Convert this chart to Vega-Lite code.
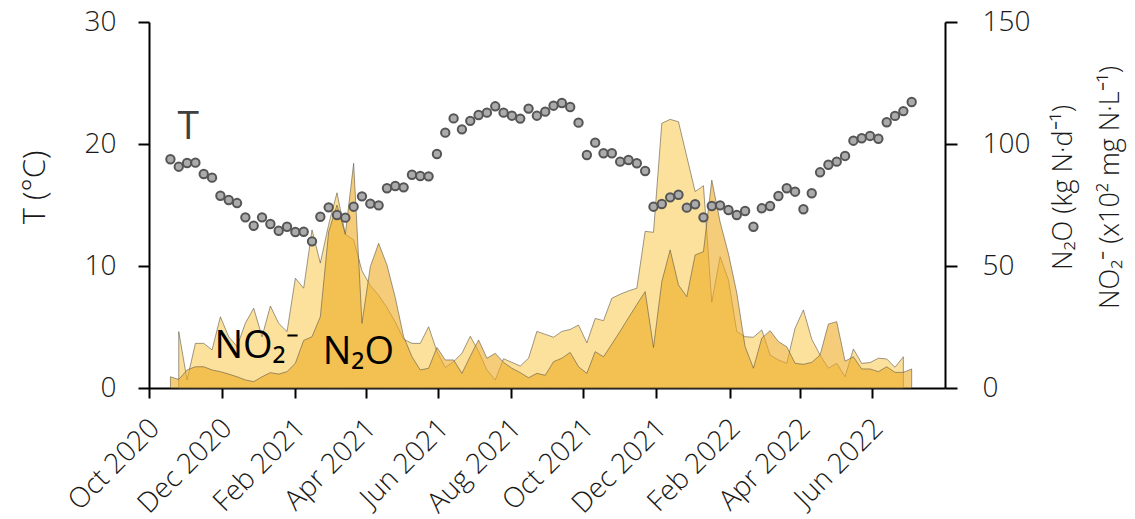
{
  "$schema": "https://vega.github.io/schema/vega-lite/v6.json",
  "width": 796,
  "height": 366,
  "autosize": {"type": "none"},
  "padding": {"left": 149, "top": 22, "right": 190, "bottom": 131},
  "config": {
    "font": "Open Sans",
    "view": {"stroke": null},
    "axis": {
      "grid": false,
      "domainColor": "#000000",
      "domainWidth": 2,
      "tickColor": "#000000",
      "tickWidth": 2,
      "labelFont": "Open Sans",
      "labelFontSize": 28,
      "labelFontWeight": 300,
      "labelColor": "#1a1a1a",
      "labelOverlap": false,
      "titleFont": "Open Sans",
      "titleFontSize": 27,
      "titleFontWeight": 300,
      "titleColor": "#1a1a1a"
    }
  },
  "data": {
    "values": [
      {"date": "2020/10/19", "T": 18.75, "no2": null, "n2o": 4.6},
      {"date": "2020/10/26", "T": 18.14, "no2": 23.1, "n2o": 3.5},
      {"date": "2020/11/02", "T": 18.44, "no2": 3.3, "n2o": 7.4},
      {"date": "2020/11/09", "T": 18.47, "no2": 18.3, "n2o": 8.7},
      {"date": "2020/11/16", "T": 17.54, "no2": 18.3, "n2o": 8.7},
      {"date": "2020/11/23", "T": 17.24, "no2": 15.6, "n2o": 7.4},
      {"date": "2020/11/30", "T": 15.76, "no2": 29.2, "n2o": 6.7},
      {"date": "2020/12/07", "T": 15.41, "no2": 21, "n2o": 5.7},
      {"date": "2020/12/14", "T": 15.16, "no2": 17, "n2o": 4.6},
      {"date": "2020/12/21", "T": 13.99, "no2": 26.6, "n2o": 3.3},
      {"date": "2020/12/28", "T": 13.3, "no2": 32.7, "n2o": 2.6},
      {"date": "2021/01/04", "T": 13.99, "no2": 21, "n2o": 4.6},
      {"date": "2021/01/11", "T": 13.44, "no2": 33.6, "n2o": 6.3},
      {"date": "2021/01/18", "T": 12.89, "no2": 26.5, "n2o": 5.7},
      {"date": "2021/01/25", "T": 13.22, "no2": 23.1, "n2o": 6.7},
      {"date": "2021/02/01", "T": 12.79, "no2": 45, "n2o": 10.1},
      {"date": "2021/02/08", "T": 12.81, "no2": 40.9, "n2o": 19.5},
      {"date": "2021/02/15", "T": 12.02, "no2": 64.8, "n2o": 21},
      {"date": "2021/02/22", "T": 14.04, "no2": 51.2, "n2o": 29.2},
      {"date": "2021/03/01", "T": 14.81, "no2": 67, "n2o": 64},
      {"date": "2021/03/08", "T": 14.18, "no2": 80, "n2o": 75},
      {"date": "2021/03/15", "T": 13.96, "no2": 63, "n2o": 63},
      {"date": "2021/03/22", "T": 14.86, "no2": 60.7, "n2o": 92.1},
      {"date": "2021/03/29", "T": 15.71, "no2": 48, "n2o": 26.5},
      {"date": "2021/04/05", "T": 15.11, "no2": 42, "n2o": 49.7},
      {"date": "2021/04/12", "T": 14.97, "no2": 38, "n2o": 59.3},
      {"date": "2021/04/19", "T": 16.37, "no2": 33, "n2o": 50.4},
      {"date": "2021/04/26", "T": 16.56, "no2": 27, "n2o": 37},
      {"date": "2021/05/03", "T": 16.45, "no2": 20, "n2o": 21},
      {"date": "2021/05/10", "T": 17.48, "no2": 18.3, "n2o": 12.8},
      {"date": "2021/05/17", "T": 17.38, "no2": 18.3, "n2o": 7.4},
      {"date": "2021/05/24", "T": 17.35, "no2": 25.1, "n2o": 8.1},
      {"date": "2021/05/31", "T": 19.18, "no2": 15, "n2o": 16.6},
      {"date": "2021/06/07", "T": 20.93, "no2": 8.4, "n2o": 11.5},
      {"date": "2021/06/14", "T": 22.1, "no2": 10.8, "n2o": 11.5},
      {"date": "2021/06/21", "T": 21.2, "no2": 14.2, "n2o": 6},
      {"date": "2021/06/28", "T": 21.9, "no2": 21.2, "n2o": 13},
      {"date": "2021/07/05", "T": 22.38, "no2": 15, "n2o": 19.7},
      {"date": "2021/07/12", "T": 22.57, "no2": 7.4, "n2o": 12.2},
      {"date": "2021/07/19", "T": 23.09, "no2": 3.3, "n2o": 14.2},
      {"date": "2021/07/26", "T": 22.57, "no2": 12, "n2o": 10.5},
      {"date": "2021/08/02", "T": 22.32, "no2": 10.5, "n2o": 8.1},
      {"date": "2021/08/09", "T": 22.08, "no2": 9, "n2o": 6.3},
      {"date": "2021/08/16", "T": 22.9, "no2": 12.2, "n2o": 4.2},
      {"date": "2021/08/23", "T": 22.32, "no2": 23.2, "n2o": 6},
      {"date": "2021/08/30", "T": 22.65, "no2": 22, "n2o": 5.2},
      {"date": "2021/09/06", "T": 23.14, "no2": 20.8, "n2o": 10.8},
      {"date": "2021/09/13", "T": 23.36, "no2": 23.2, "n2o": 12.2},
      {"date": "2021/09/20", "T": 23.03, "no2": 24, "n2o": 14.6},
      {"date": "2021/09/27", "T": 21.75, "no2": 25.8, "n2o": 8.7},
      {"date": "2021/10/04", "T": 19.1, "no2": 18.5, "n2o": 6},
      {"date": "2021/10/11", "T": 20.11, "no2": 28.5, "n2o": 14.9},
      {"date": "2021/10/18", "T": 19.24, "no2": 27.6, "n2o": 12.8},
      {"date": "2021/10/25", "T": 19.24, "no2": 36.8, "n2o": 18},
      {"date": "2021/11/01", "T": 18.55, "no2": 38.4, "n2o": 23.3},
      {"date": "2021/11/08", "T": 18.69, "no2": 39.8, "n2o": 28.8},
      {"date": "2021/11/15", "T": 18.42, "no2": 40.9, "n2o": 34.2},
      {"date": "2021/11/22", "T": 17.79, "no2": 64.2, "n2o": 39.5},
      {"date": "2021/11/29", "T": 14.86, "no2": 63.8, "n2o": 16.6},
      {"date": "2021/12/06", "T": 15.08, "no2": 108.5, "n2o": 43.6},
      {"date": "2021/12/13", "T": 15.63, "no2": 110.1, "n2o": 56.6},
      {"date": "2021/12/20", "T": 15.84, "no2": 109.1, "n2o": 42.2},
      {"date": "2021/12/27", "T": 14.78, "no2": 94.8, "n2o": 37.4},
      {"date": "2022/01/03", "T": 15.06, "no2": 80.5, "n2o": 54.5},
      {"date": "2022/01/10", "T": 13.99, "no2": 82.9, "n2o": 55.9},
      {"date": "2022/01/17", "T": 14.92, "no2": 35.2, "n2o": 85.2},
      {"date": "2022/01/24", "T": 14.97, "no2": 53.8, "n2o": 68},
      {"date": "2022/01/31", "T": 14.59, "no2": 44.3, "n2o": 55},
      {"date": "2022/02/07", "T": 14.18, "no2": 23.1, "n2o": 39},
      {"date": "2022/02/14", "T": 14.51, "no2": 21, "n2o": 16.9},
      {"date": "2022/02/21", "T": 13.22, "no2": 20.8, "n2o": 8.1},
      {"date": "2022/02/28", "T": 14.73, "no2": 23.8, "n2o": 20.4},
      {"date": "2022/03/07", "T": 14.92, "no2": 13.5, "n2o": 23.5},
      {"date": "2022/03/14", "T": 15.74, "no2": 11.5, "n2o": 19},
      {"date": "2022/03/21", "T": 16.37, "no2": 10.1, "n2o": 16.9},
      {"date": "2022/03/28", "T": 16.09, "no2": 24.5, "n2o": 10.1},
      {"date": "2022/04/04", "T": 14.65, "no2": 32, "n2o": 9.7},
      {"date": "2022/04/11", "T": 15.96, "no2": 20, "n2o": 10.5},
      {"date": "2022/04/18", "T": 17.68, "no2": 13.5, "n2o": 13.5},
      {"date": "2022/04/25", "T": 18.3, "no2": 8.1, "n2o": 26.2},
      {"date": "2022/05/02", "T": 18.55, "no2": 10.1, "n2o": 27.2},
      {"date": "2022/05/09", "T": 19.02, "no2": 4.6, "n2o": 11},
      {"date": "2022/05/16", "T": 20.27, "no2": 16, "n2o": 12.8},
      {"date": "2022/05/23", "T": 20.47, "no2": 10.1, "n2o": 7.8},
      {"date": "2022/05/30", "T": 20.66, "no2": 10.4, "n2o": 7.8},
      {"date": "2022/06/06", "T": 20.43, "no2": 12.2, "n2o": 6.7},
      {"date": "2022/06/13", "T": 21.78, "no2": 11.9, "n2o": 8.7},
      {"date": "2022/06/20", "T": 22.3, "no2": 8.5, "n2o": 6.4},
      {"date": "2022/06/27", "T": 22.7, "no2": 12.8, "n2o": 6.4},
      {"date": "2022/07/04", "T": 23.44, "no2": null, "n2o": 7.8}
    ]
  },
  "encoding": {
    "x": {
      "field": "date",
      "type": "temporal",
      "scale": {
        "domain": [{"year": 2020, "month": 10, "date": 1}, {"year": 2022, "month": 8, "date": 1}],
        "nice": false
      },
      "axis": {
        "title": null,
        "format": "%b %Y",
        "labelAngle": -45,
        "tickSize": 10,
        "labelPadding": 16,
        "labelOffset": -4,
        "values": [
          {"year": 2020, "month": 10, "date": 1},
          {"year": 2020, "month": 12, "date": 1},
          {"year": 2021, "month": 2, "date": 1},
          {"year": 2021, "month": 4, "date": 1},
          {"year": 2021, "month": 6, "date": 1},
          {"year": 2021, "month": 8, "date": 1},
          {"year": 2021, "month": 10, "date": 1},
          {"year": 2021, "month": 12, "date": 1},
          {"year": 2022, "month": 2, "date": 1},
          {"year": 2022, "month": 4, "date": 1},
          {"year": 2022, "month": 6, "date": 1}
        ]
      }
    }
  },
  "layer": [
    {
      "layer": [
        {
          "mark": {"type": "area", "fill": "#F7C948", "fillOpacity": 0.55, "stroke": "#5a5446", "strokeWidth": 0.9, "strokeOpacity": 0.65},
          "encoding": {
            "y": {
              "field": "no2", "type": "quantitative",
              "scale": {"domain": [0, 150], "nice": false},
              "axis": {"orient": "right", "values": [0, 50, 100, 150], "tickSize": 12, "labelPadding": 25,
                "title": ["N₂O (kg N·d⁻¹)", "NO₂⁻ (x10² mg N·L⁻¹)"],
                "titleAngle": 270, "titleAlign": "center", "titleBaseline": "middle",
                "titleX": 118, "titleY": 165, "titleLineHeight": 47}
            }
          }
        },
        {
          "mark": {"type": "area", "fill": "#EFAA22", "fillOpacity": 0.6, "stroke": "#5a5446", "strokeWidth": 0.9, "strokeOpacity": 0.65},
          "encoding": {
            "y": {
              "field": "n2o", "type": "quantitative",
              "scale": {"domain": [0, 150], "nice": false},
              "axis": {"orient": "right", "values": [0, 50, 100, 150], "tickSize": 12, "labelPadding": 25,
                "title": ["N₂O (kg N·d⁻¹)", "NO₂⁻ (x10² mg N·L⁻¹)"],
                "titleAngle": 270, "titleAlign": "center", "titleBaseline": "middle",
                "titleX": 118, "titleY": 165, "titleLineHeight": 47}
            }
          }
        }
      ]
    },
    {
      "encoding": {
        "y": {
          "field": "T", "type": "quantitative",
          "scale": {"domain": [0, 30], "nice": false},
          "axis": {"orient": "left", "values": [0, 10, 20, 30], "tickSize": 11, "labelPadding": 22,
            "title": "T (°C)", "titleFontSize": 31, "titleAngle": 270, "titleAlign": "center", "titleBaseline": "middle",
            "titleX": -114, "titleY": 165}
        }
      },
      "layer": [
        {
          "mark": {"type": "circle", "fill": "#ABABAB", "stroke": "#555555", "strokeWidth": 2, "size": 70, "opacity": 1}
        },
        {
          "data": {"values": [{"date": "2020/11/03", "T": 21.4, "label": "T"}]},
          "mark": {"type": "text", "align": "center", "baseline": "middle", "fontSize": 39, "color": "#404040", "font": "Open Sans"},
          "encoding": {"text": {"field": "label"}}
        },
        {
          "data": {"values": [
            {"date": "2020/11/25", "T": 3.36, "label": "NO₂⁻"},
            {"date": "2021/02/24", "T": 2.83, "label": "N₂O"}
          ]},
          "mark": {"type": "text", "align": "left", "baseline": "middle", "fontSize": 38, "color": "#000000", "font": "Open Sans"},
          "encoding": {"text": {"field": "label"}}
        }
      ]
    }
  ],
  "resolve": {"scale": {"y": "independent"}}
}
